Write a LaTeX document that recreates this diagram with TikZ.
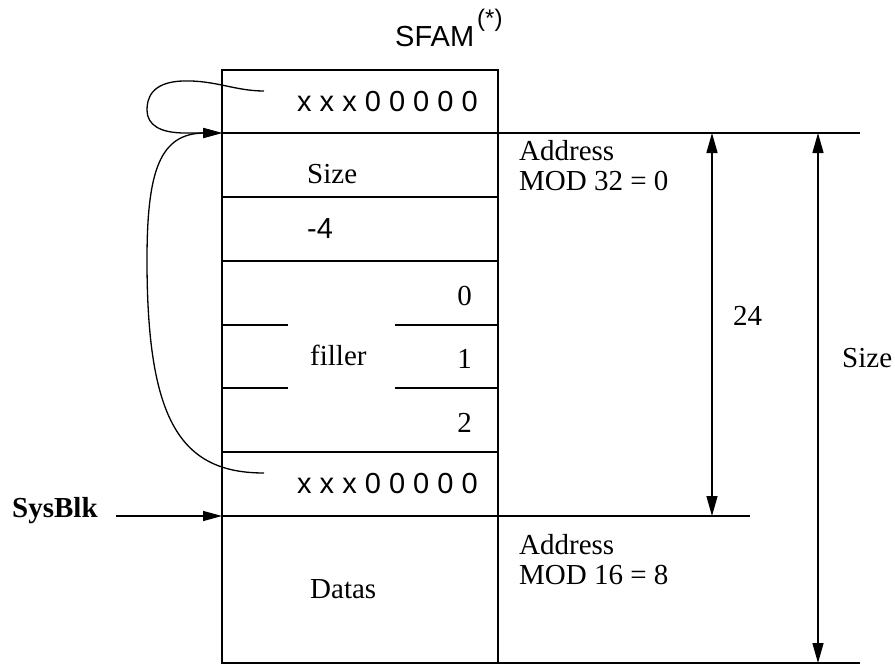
\documentclass[tikz,border=0pt]{standalone}
\usepackage{fontspec}
\setmainfont{Liberation Serif}
\setsansfont{Liberation Sans}
\usetikzlibrary{arrows.meta, positioning}

\begin{document}
\begin{tikzpicture}[x=1pt, y=-1pt,
    txt/.style={font=\fontsize{29}{30}\selectfont, inner sep=0pt, anchor=base west},
    sans/.style={txt, font=\sffamily\fontsize{29}{30}\selectfont},
    ln/.style={line width=1.4pt},
    tip/.style={-{Triangle[length=19pt,width=10pt]}, line width=1.3pt},
    dim/.style={{Triangle[length=20pt,width=11pt]}-{Triangle[length=20pt,width=11pt]}, line width=1.4pt}]
    \useasboundingbox (0,0) rectangle (895,669);

    % memory block
    \draw[ln] (222,70) rectangle (498,663);
    \foreach \y in {133,197,261,452,516}
        \draw[ln] (222,\y) -- (498,\y);
    \foreach \y in {325,388} {
        \draw[ln] (222,\y) -- (288,\y);
        \draw[ln] (395,\y) -- (498,\y);
    }
    \draw[ln] (498,133) -- (860,133);
    \draw[ln] (498,516) -- (750,516);
    \draw[ln] (498,663) -- (860,663);

    % contents
    \node[sans] (sfam) at (395,47) {SFAM};
    \node[sans, font=\sffamily\fontsize{24}{26}\selectfont] (star) at (477,27) {(*)};
    \node[sans] (hdrtop) at (297,111) {x x x 0 0 0 0 0};
    \node[txt] (size) at (307,183) {Size};
    \node[sans] (minus) at (307,238) {-4};
    \node[txt, anchor=base east] (f0) at (472,305) {0};
    \node[txt, anchor=base east] (f1) at (472,368) {1};
    \node[txt, anchor=base east] (f2) at (472,432) {2};
    \node[txt] (filler) at (310,365) {filler};
    \node[sans] (hdrbot) at (297,493) {x x x 0 0 0 0 0};
    \node[txt] (datas) at (310,598) {Datas};
    \node[txt, align=left, anchor=north west] (mod32) at (519,140) {Address\\MOD 32 = 0};
    \node[txt, align=left, anchor=north west] (mod16) at (519,534) {Address\\MOD 16 = 8};
    \node[txt] (len24) at (733,325) {24};
    \node[txt] (lensize) at (842,367) {Size};
    \node[txt, font=\bfseries\fontsize{29}{30}\selectfont] (sysblk) at (12,517) {SysBlk};

    % pointers
    \coordinate (blk) at (222,133);
    \coordinate (sys) at (222,516);
    \coordinate (lnk1) at (264,91);
    \coordinate (lnk2) at (264,473);
    \draw[tip] (lnk1) .. controls (235,91) and (215,80) .. (183,81)
        .. controls (150,82) and (147,100) .. (147,110)
        .. controls (147,125) and (160,133) .. (185,133) -- (blk);
    \draw[tip] (lnk2) .. controls (180,473) and (147,420) .. (147,260)
        .. controls (147,170) and (160,133) .. (205,133) -- (blk);
    \draw[tip] (sysblk.east |- sys) ++(18,0) -- (sys);

    % sizes
    \coordinate (a24) at (712,133);
    \coordinate (b24) at (712,516);
    \coordinate (asz) at (818,133);
    \coordinate (bsz) at (818,663);
    \draw[dim] (a24) -- (b24);
    \draw[dim] (asz) -- (bsz);
\end{tikzpicture}
\end{document}
